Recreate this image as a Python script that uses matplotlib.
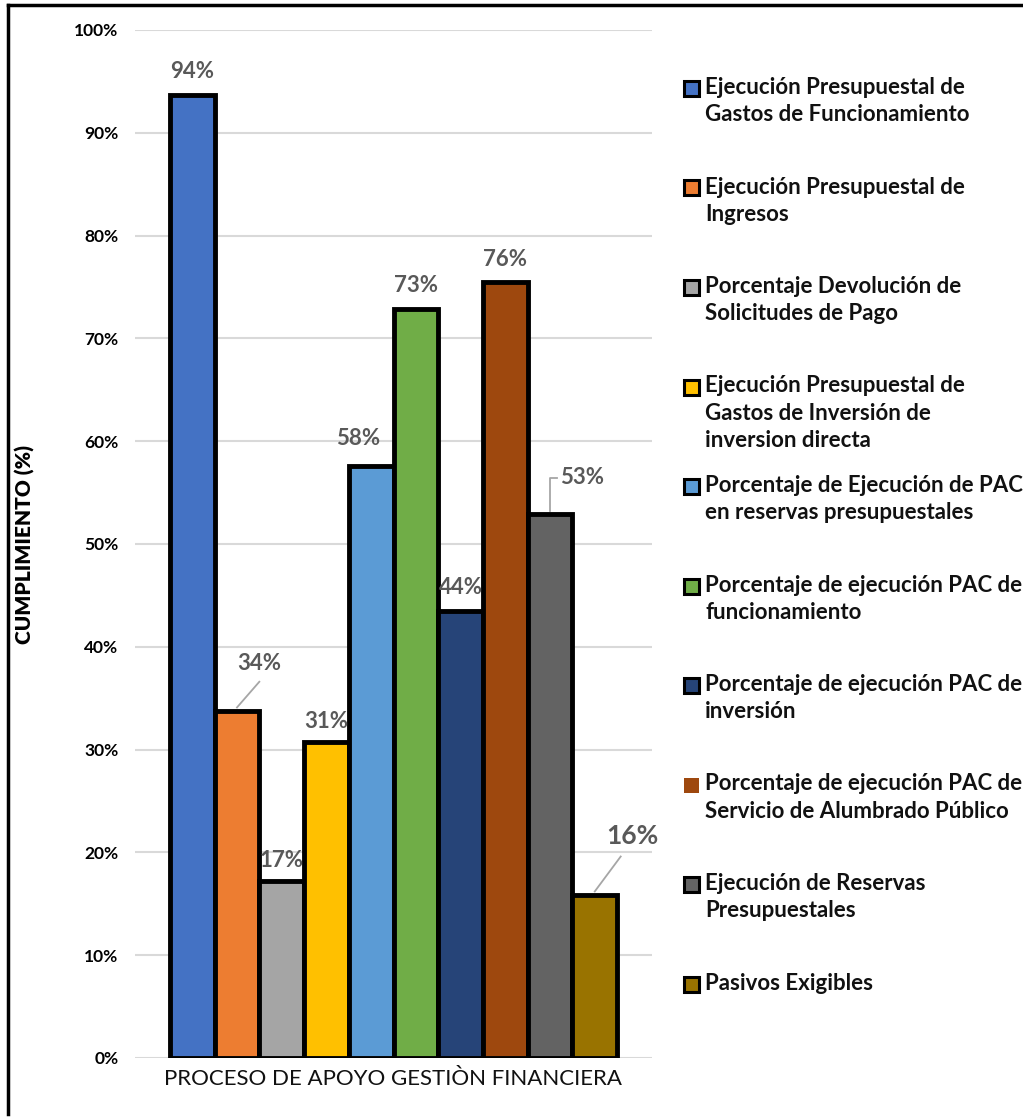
import matplotlib.pyplot as plt
from matplotlib.lines import Line2D
from matplotlib.patches import Rectangle

plt.rcParams['font.family'] = ['Lato', 'DejaVu Sans']

series = [
    "Ejecución Presupuestal de\nGastos de Funcionamiento",
    "Ejecución Presupuestal de\nIngresos",
    "Porcentaje Devolución de\nSolicitudes de Pago",
    "Ejecución Presupuestal de\nGastos de Inversión de\ninversion directa",
    "Porcentaje de Ejecución de PAC\nen reservas presupuestales",
    "Porcentaje de ejecución PAC de\nfuncionamiento",
    "Porcentaje de ejecución PAC de\ninversión",
    "Porcentaje de ejecución PAC de\nServicio de Alumbrado Público",
    "Ejecución de Reservas\nPresupuestales",
    "Pasivos Exigibles",
]
values = [0.937, 0.338, 0.172, 0.307, 0.576, 0.729, 0.435, 0.755, 0.529, 0.159]
colors = ["#4472C4", "#ED7D31", "#A5A5A5", "#FFC000", "#5B9BD5",
          "#70AD47", "#264478", "#9E480E", "#636363", "#997300"]
category = "PROCESO DE APOYO GESTIÒN FINANCIERA"
yticks = [0, 0.1, 0.2, 0.3, 0.4, 0.5, 0.6, 0.7, 0.8, 0.9, 1.0]

# label offsets (data units) relative to bar center / top
label_dx = [0, 0.5, 0, 0, -0.3, 0, 0, 0, 0.72, 0.85]
label_dy = [0.012, 0.036, 0.01, 0.01, 0.016, 0.012, 0.012, 0.012, 0.025, 0.045]

fig = plt.figure(figsize=(10.23, 11.17), dpi=100)
ax = fig.add_axes([135 / 1023, 1 - 1058 / 1117, 517 / 1023, 1028 / 1117])

xs = list(range(len(values)))
ax.bar(xs, values, width=1.0, color=colors, edgecolor="black", linewidth=3.5, zorder=3)

# leader lines
lc = "#A6A6A6"
ax.plot([1, 1.5], [values[1] + 0.003, values[1] + 0.028], color=lc, lw=1.3, zorder=4)
ax.plot([8, 8, 8.15], [values[8] + 0.003, values[8] + 0.035, values[8] + 0.035],
        color=lc, lw=1.3, zorder=4)
ax.plot([9, 9.58], [values[9] + 0.003, values[9] + 0.037], color=lc, lw=1.3, zorder=4)

for i, v in enumerate(values):
    size = 19 if i == 9 else 16
    ax.text(i + label_dx[i], v + label_dy[i], f"{round(v * 100):.0f}%",
            ha="center", va="bottom", fontsize=size, fontweight="bold",
            color="#595959", zorder=5)

ax.set_ylim(0, 1)
ax.set_xlim(-0.5 - 0.78, 9.5 + 0.78)
ax.set_yticks(yticks)
ax.set_yticklabels([f"{int(round(t * 100))}%" for t in yticks], fontsize=12.5,
                   fontweight="bold")
ax.set_xticks([])
ax.tick_params(axis="y", length=0, pad=12)
ax.grid(axis="y", color="#D9D9D9", lw=1.5, zorder=0)
for s in ax.spines.values():
    s.set_visible(False)
ax.set_ylabel("CUMPLIMIENTO (%)", fontsize=15, fontweight="heavy", labelpad=28)
ax.set_xlabel(category, fontsize=16, labelpad=8, color="#111111")

# legend drawn entry by entry
W, H = 1023, 1117
for i, (name, c) in enumerate(zip(series, colors)):
    ytop = 78 + i * 99.5
    ec = "none" if i == 7 else "black"
    fig.add_artist(Rectangle((684 / W, 1 - (ytop + 18) / H), 15 / W, 15 / H,
                             facecolor=c, edgecolor=ec, lw=2.2, transform=fig.transFigure))
    fig.text(705 / W, 1 - (ytop - 1) / H, name, ha="left", va="top", fontsize=16,
             fontweight="bold", color="#111111", linespacing=1.36)

# outer frame (top and left edges visible)
fig.add_artist(Line2D([8 / W, 1.0], [1 - 5 / H, 1 - 5 / H], color="black", lw=2.5))
fig.add_artist(Line2D([8 / W, 8 / W], [1 - 5 / H, 1 - 1114 / H], color="black", lw=2.5))

fig.savefig("out.png", dpi=100)
